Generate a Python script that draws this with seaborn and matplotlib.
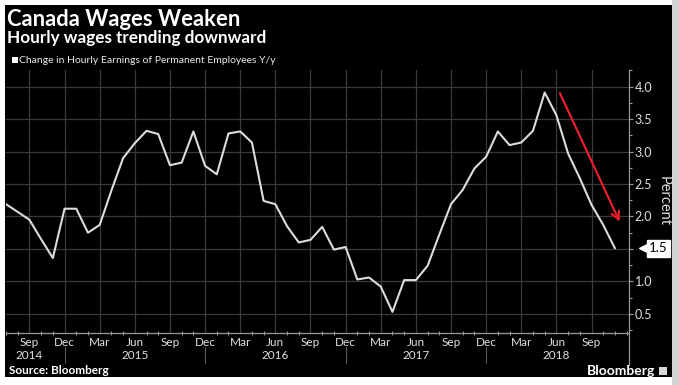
import matplotlib
matplotlib.use("Agg")
import matplotlib.pyplot as plt
import matplotlib.transforms as mtransforms
from matplotlib.patches import Rectangle
from matplotlib.ticker import MultipleLocator
import seaborn as sns
import pandas as pd
import numpy as np

# ---- data (Jul 2014 .. Nov 2018, monthly) ----
months = pd.date_range("2014-07-01", "2018-11-01", freq="MS")
wage_growth = [
    2.19, 2.07, 1.95, 1.65, 1.36, 2.12,                                  # 2014 Jul-Dec
    2.12, 1.75, 1.87, 2.40, 2.90, 3.13, 3.32, 3.27, 2.79, 2.83, 3.31, 2.78,  # 2015
    2.65, 3.28, 3.31, 3.14, 2.24, 2.19, 1.85, 1.60, 1.64, 1.84, 1.49, 1.53,  # 2016
    1.03, 1.06, 0.92, 0.53, 1.02, 1.02, 1.24, 1.72, 2.19, 2.41, 2.74, 2.92,  # 2017
    3.31, 3.10, 3.14, 3.32, 3.91, 3.56, 2.97, 2.59, 2.18, 1.87, 1.51,        # 2018 Jan-Nov
]
month_tick_pos = list(range(2, 53, 3))
month_tick_labels = ["Sep", "Dec", "Mar", "Jun"] * 4 + ["Sep"]
year_labels = ["2014", "2015", "2016", "2017", "2018"]
year_label_pos = [2, 11, 23, 35, 47]
year_sep_pos = [5, 17, 29, 41]
y_ticks = [0.5, 1.0, 1.5, 2.0, 2.5, 3.0, 3.5, 4.0]
last_value_label = "1.5"
arrow_start = (47.3, 3.90)
arrow_end = (52.4, 1.92)

df = pd.DataFrame({"idx": np.arange(len(months)), "value": wage_growth})

sns.set_theme(style="dark")
plt.rcParams["font.family"] = ["Lato", "DejaVu Sans"]

W, H = 679, 385
fig = plt.figure(figsize=(W / 100, H / 100), dpi=100, facecolor="white")
# black card + right gray strip
fig.patches.append(Rectangle((5 / W, 1 - 377 / H), 667 / W, 372 / H,
                             transform=fig.transFigure, facecolor="black",
                             edgecolor="none", zorder=-10))
fig.patches.append(Rectangle((672 / W, 0), 7 / W, 1,
                             transform=fig.transFigure, facecolor="#d2d2d2",
                             edgecolor="none", zorder=-10))

left, right, top, bottom = 6, 629, 70, 333
ax = fig.add_axes([left / W, 1 - bottom / H, (right - left) / W, (bottom - top) / H])
ax.set_facecolor("black")

sns.lineplot(data=df, x="idx", y="value", ax=ax, color="#dcdcdc", linewidth=1.5,
             zorder=3)

ax.set_xlim(0, 53.2)
ax.set_ylim(0.205, 4.257)

# grid
ax.set_xticks(month_tick_pos)
ax.set_xticklabels(month_tick_labels)
ax.xaxis.set_minor_locator(MultipleLocator(1))
ax.set_yticks(y_ticks)
ax.yaxis.set_minor_locator(MultipleLocator(0.25))
ax.grid(True, which="major", color="#3a3a3a", linewidth=0.9)
ax.grid(False, which="minor")

ax.yaxis.tick_right()
ax.yaxis.set_label_position("right")
ylabels = ["" if f"{v:.1f}" == last_value_label else f"{v:.1f}" for v in y_ticks]
ax.set_yticklabels(ylabels)

for s in ["left", "top"]:
    ax.spines[s].set_visible(False)
for s in ["right", "bottom"]:
    ax.spines[s].set_visible(True)
    ax.spines[s].set_color("#9a9a9a")
    ax.spines[s].set_linewidth(0.9)

ax.tick_params(axis="y", which="major", colors="#9a9a9a", labelcolor="#e0e0e0",
               length=3, width=0.8, labelsize=9, pad=1, right=True, left=False)
ax.tick_params(axis="y", which="minor", colors="#9a9a9a", length=2, width=0.8,
               right=True, left=False)
ax.tick_params(axis="x", which="major", colors="#9a9a9a", labelcolor="#e0e0e0",
               length=0, labelsize=8.5, pad=3, bottom=True)
ax.tick_params(axis="x", which="minor", colors="#9a9a9a", length=3, width=0.7,
               direction="inout", bottom=True)

ax.set_xlabel("")
ax.set_ylabel("Percent", rotation=270, color="#e0e0e0", fontsize=10.5,
              va="center")
ax.yaxis.set_label_coords(1.055, 0.50)

# year labels and separators
trans = mtransforms.blended_transform_factory(ax.transData, ax.transAxes)
for lab, p in zip(year_labels, year_label_pos):
    ax.text(p, -0.087, lab, transform=trans, ha="center", va="center",
            color="#e0e0e0", fontsize=8.5)
for p in year_sep_pos:
    ax.plot([p, p], [-0.055, -0.115], transform=trans, color="#5a5a5a",
            linewidth=0.8, clip_on=False)
ax.plot([1, 1], [0, -0.12], transform=ax.transAxes, color="#9a9a9a",
        linewidth=0.9, clip_on=False)

# red trend arrow
ax.annotate("", xy=arrow_end, xytext=arrow_start,
            arrowprops=dict(arrowstyle="->", color="#e8202e", lw=1.6,
                            mutation_scale=14, shrinkA=0, shrinkB=0), zorder=4)

# last value tag
ytrans = mtransforms.blended_transform_factory(ax.transAxes, ax.transData)
last_val = wage_growth[-1]
ax.text(1.032, last_val, last_value_label, transform=ytrans,
        ha="left", va="center", fontsize=9.5, color="black",
        bbox=dict(boxstyle="square,pad=0.18", facecolor="white",
                  edgecolor="white"), clip_on=False, zorder=5)
ax.plot([1.024], [last_val], marker="<", markersize=6.5, color="white",
        transform=ytrans, clip_on=False, zorder=5)

# titles
fig.text(7 / W, 1 - 19.5 / H, "Canada Wages Weaken", color="white",
         fontsize=15.8, fontweight="bold", ha="left", va="center")
fig.text(7 / W, 1 - 38 / H, "Hourly wages trending downward", color="white",
         fontsize=12.3, fontweight="bold", ha="left", va="center")
fig.patches.append(Rectangle((12 / W, 1 - 63 / H), 5.5 / W, 6 / H,
                             transform=fig.transFigure, facecolor="white",
                             edgecolor="none"))
fig.text(19 / W, 1 - 60.5 / H,
         "Change in Hourly Earnings of Permanent Employees Y/y",
         color="#e8e8e8", fontsize=7.5, ha="left", va="center")

# footer
fig.text(9 / W, 1 - 371 / H, "Source: Bloomberg", color="white",
         fontsize=8.5, fontweight="bold", ha="left", va="center")
fig.text(655 / W, 1 - 371 / H, "Bloomberg", color="white",
         fontsize=10, fontweight="bold", ha="right", va="center")
fig.patches.append(Rectangle((659 / W, 1 - 375 / H), 8 / W, 8 / H,
                             transform=fig.transFigure, facecolor="#d8d8d8",
                             edgecolor="none"))

fig.savefig("out.png", dpi=100, facecolor="white")
